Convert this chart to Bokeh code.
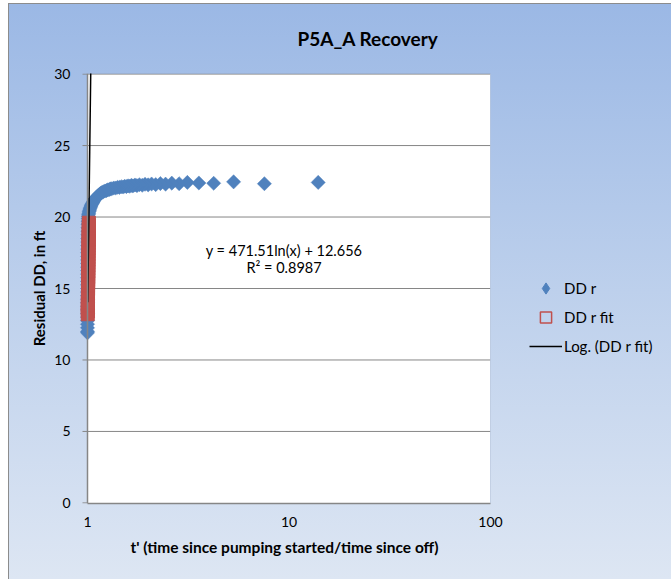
import numpy as np
from bokeh.plotting import figure
from bokeh.models import (Legend, LegendItem, Label, FixedTicker, Range1d,
                          PrintfTickFormatter, BoxAnnotation, Span)
from bokeh.embed import file_html
from bokeh.resources import INLINE

title_text = "P5A_A Recovery"
x_label = "t' (time since pumping started/time since off)"
y_label = "Residual DD, in ft"
series_names = ["DD r", "DD r fit", "Log. (DD r fit)"]

dd_r_x = [13.96, 7.55, 5.31, 4.23, 3.57, 3.13, 2.85, 2.62, 2.44, 2.30,
          2.18, 2.08, 2.00, 1.93, 1.87, 1.81, 1.76, 1.72, 1.68, 1.65,
          1.62, 1.59, 1.56, 1.53, 1.50, 1.47, 1.44, 1.41, 1.38, 1.35,
          1.32, 1.30, 1.28, 1.26, 1.24, 1.22, 1.20, 1.18, 1.165, 1.15,
          1.135, 1.12, 1.108, 1.096, 1.085, 1.075, 1.065, 1.056, 1.048, 1.041,
          1.035, 1.029, 1.024, 1.019, 1.015, 1.012, 1.009, 1.007, 1.006, 1.0055,
          1.005, 1.0045, 1.004, 1.0035, 1.003, 1.0027, 1.0024, 1.0021, 1.0019, 1.0017,
          1.0015, 1.0013, 1.0012, 1.0011, 1.0010, 1.0009, 1.0008, 1.0007, 1.0007, 1.0006,
          1.0006, 1.0005, 1.0005, 1.0004, 1.0004, 1.0004, 1.0003, 1.0003, 1.0003, 1.0002,
          1.0002]
dd_r_y = [22.42, 22.33, 22.46, 22.36, 22.38, 22.42, 22.33, 22.37, 22.30, 22.34,
          22.27, 22.31, 22.25, 22.29, 22.22, 22.26, 22.20, 22.24, 22.18, 22.21,
          22.15, 22.18, 22.13, 22.15, 22.10, 22.12, 22.07, 22.08, 22.03, 22.03,
          21.98, 21.97, 21.92, 21.90, 21.85, 21.82, 21.77, 21.72, 21.66, 21.60,
          21.53, 21.45, 21.38, 21.30, 21.22, 21.13, 21.04, 20.95, 20.86, 20.77,
          20.68, 20.58, 20.48, 20.38, 20.27, 20.16, 20.05, 19.90, 19.70, 19.50,
          19.25, 19.00, 18.75, 18.50, 18.25, 18.00, 17.75, 17.50, 17.25, 17.00,
          16.75, 16.50, 16.25, 16.00, 15.75, 15.50, 15.25, 15.00, 14.75, 14.50,
          14.25, 14.00, 13.75, 13.50, 13.25, 13.00, 12.75, 12.50, 12.25, 12.00,
          11.90]

fit_x = [1.0030, 1.0040, 1.0034, 1.0046, 1.0041, 1.0053, 1.0048, 1.0060, 1.0055, 1.0067,
         1.0062, 1.0074, 1.0070, 1.0082, 1.0078, 1.0090, 1.0086, 1.0098, 1.0094, 1.0106,
         1.0102, 1.0114, 1.0110, 1.0122, 1.0118, 1.0130, 1.0127, 1.0139, 1.0136, 1.0148,
         1.0145, 1.0157, 1.0160]
fit_y = [13.2, 13.4, 13.6, 13.8, 14.0, 14.2, 14.4, 14.6, 14.8, 15.0,
         15.2, 15.4, 15.6, 15.8, 16.0, 16.2, 16.4, 16.6, 16.8, 17.0,
         17.2, 17.4, 17.6, 17.8, 18.0, 18.2, 18.4, 18.6, 18.8, 19.0,
         19.2, 19.4, 19.6]

trend_slope = 471.51
trend_intercept = 12.656
trend_r2 = 0.8987
trend_x_start = 1.00294
trend_x_end = 1.04

x_ticks = [1, 10, 100]
y_ticks = [0, 5, 10, 15, 20, 25, 30]
x_min, x_max = 1, 100
y_min, y_max = 0, 30

FONT = "Lato"
BLUE = "#4F81BD"
RED = "#C0504D"
GRAY = "#868686"

# frame starts 9px left of x=1 so markers at x~1 are not cut off
x_pad = 10 ** (-9 / 201.5)
tick_len = 10 ** (-5 / 201.5)
p = figure(x_axis_type="log", x_range=Range1d(x_min * x_pad, x_max),
           y_range=Range1d(y_min - 0.04, y_max + 0.04),
           frame_width=412, frame_height=430,
           min_border_left=70, min_border_right=180, min_border_top=70, min_border_bottom=76,
           output_backend="svg", toolbar_location=None,
           border_fill_color=None, background_fill_color=None,
           outline_line_color=None)
p.margin = (3, 0, 0, 8)
p.styles = {"background": "linear-gradient(to bottom, #9BB8E5 0%, #BDD0EC 50%, #DDE6F3 100%)",
            "box-shadow": "inset 1px 1px 0 #8C8C8C, inset -1px 0 0 #8C8C8C"}

p.title.text = title_text
p.title.text_font = FONT
p.title.text_font_style = "bold"
p.title.text_font_size = "19px"
p.title.text_color = "black"
p.title.align = "left"
p.title.offset = 219
p.title.vertical_align = "middle"
p.title.standoff = 45

# white plot area
p.add_layout(BoxAnnotation(left=x_min, right=x_max, bottom=y_min, top=y_max,
                           fill_color="white", fill_alpha=1, line_color=None,
                           level="underlay"))
p.add_layout(Span(location=x_max, dimension="height", line_color="#A9B9D3", line_width=1))

# horizontal gridlines from x=1 to x=100
grid_y = y_ticks[1:]
p.segment(x0=[x_min] * len(grid_y), y0=grid_y, x1=[x_max] * len(grid_y), y1=grid_y,
          line_color=GRAY, line_width=1)
# y-axis line and outside tick marks at x=1
p.add_layout(Span(location=x_min, dimension="height", line_color=GRAY, line_width=1.5))
p.segment(x0=[x_min * tick_len] * len(y_ticks), y0=y_ticks, x1=[x_min] * len(y_ticks),
          y1=y_ticks, line_color=GRAY, line_width=1)

r_blue = p.scatter(dd_r_x, dd_r_y, marker="square", size=10, angle=np.pi / 4,
                   fill_color=BLUE, line_color=BLUE, line_width=0.5)
r_red = p.scatter(fit_x, fit_y, marker="square", size=13,
                  fill_color=RED, line_color=RED, line_width=1)
r_red_leg = p.scatter([50], [-10], marker="square",
                      fill_color=None, line_color=RED, line_width=1.5)
r_blue_leg = p.scatter([50], [-10], marker="diamond",
                       fill_color=BLUE, line_color=BLUE, line_width=1)

tx = np.linspace(trend_x_start, trend_x_end, 60)
ty = trend_slope * np.log(tx) + trend_intercept
r_trend = p.line(tx, ty, line_color="black", line_width=1.5)

eq1 = Label(x=9.45, y=17.66, text=f"y = {trend_slope}ln(x) + {trend_intercept}",
            text_font=FONT, text_font_size="14.5px", text_align="center",
            text_baseline="middle", text_color="black")
eq2 = Label(x=9.45, y=16.49, text=f"R² = {trend_r2}",
            text_font=FONT, text_font_size="14.5px", text_align="center",
            text_baseline="middle", text_color="black")
p.add_layout(eq1)
p.add_layout(eq2)

# axes
p.xaxis.ticker = FixedTicker(ticks=x_ticks)
p.xaxis.formatter = PrintfTickFormatter(format="%d")
p.xaxis.bounds = (x_min, x_max)
p.yaxis.ticker = FixedTicker(ticks=y_ticks)
p.xgrid.visible = False
p.ygrid.visible = False

for ax in (p.xaxis, p.yaxis):
    ax.major_label_text_font = FONT
    ax.major_label_text_font_size = "14px"
    ax.major_label_text_color = "black"
    ax.minor_tick_line_color = None
    ax.major_tick_line_color = None
    ax.major_tick_out = 0
    ax.major_tick_in = 0
    ax.axis_label_text_font = FONT
    ax.axis_label_text_font_style = "bold"
    ax.axis_label_text_color = "black"

p.xaxis.axis_line_color = GRAY
p.xaxis.axis_line_width = 1.5
p.xaxis.major_label_standoff = 13
p.xaxis.axis_label = x_label
p.xaxis.axis_label_text_font_size = "15.5px"
p.xaxis.axis_label_standoff = 8

p.yaxis.axis_line_color = None
p.yaxis.major_label_standoff = 8
p.yaxis.axis_label = y_label
p.yaxis.axis_label_text_font_size = "15px"
p.yaxis.axis_label_standoff = 3

legend = Legend(items=[LegendItem(label=series_names[0], renderers=[r_blue_leg]),
                       LegendItem(label=series_names[1], renderers=[r_red_leg]),
                       LegendItem(label=series_names[2], renderers=[r_trend])],
                location=(39, 143), orientation="vertical",
                background_fill_alpha=0, border_line_color=None,
                glyph_width=33, glyph_height=28, label_height=28, spacing=1,
                label_standoff=2, padding=0, margin=0,
                label_text_font=FONT, label_text_font_size="15px",
                label_text_color="black")
p.add_layout(legend, "right")

open("out.html", "w").write(file_html(p, INLINE))
